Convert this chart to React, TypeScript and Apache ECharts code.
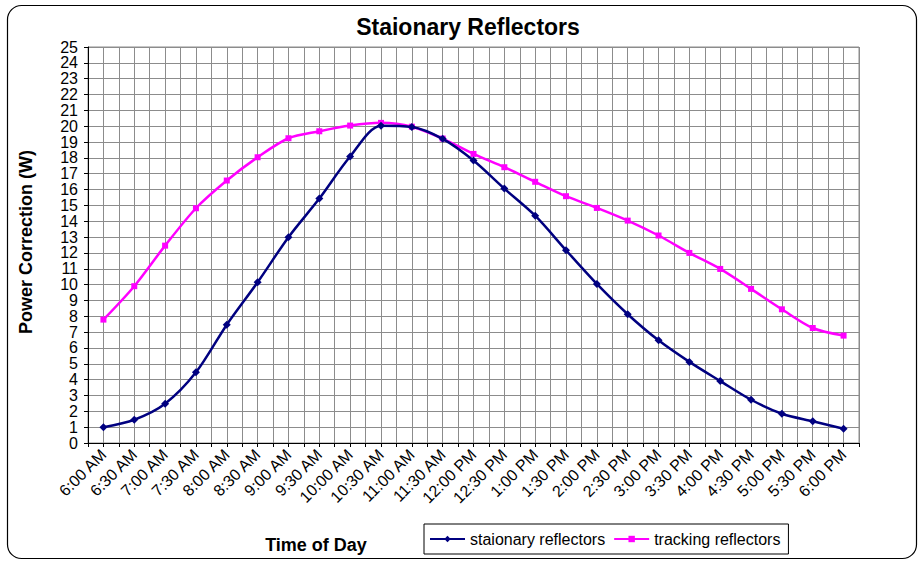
import React, { useEffect, useRef } from "react";
import * as echarts from "echarts";

const categories = [
  "6:00 AM", "6:30 AM", "7:00 AM", "7:30 AM", "8:00 AM", "8:30 AM", "9:00 AM", "9:30 AM",
  "10:00 AM", "10:30 AM", "11:00 AM", "11:30 AM", "12:00 PM", "12:30 PM", "1:00 PM", "1:30 PM",
  "2:00 PM", "2:30 PM", "3:00 PM", "3:30 PM", "4:00 PM", "4:30 PM", "5:00 PM", "5:30 PM", "6:00 PM",
];

const stationary = [
  1.0, 1.47, 2.48, 4.46, 7.47, 10.15, 12.99, 15.43, 18.09, 20.03, 19.95, 19.2, 17.83,
  16.06, 14.35, 12.17, 10.04, 8.13, 6.48, 5.12, 3.91, 2.73, 1.85, 1.37, 0.9,
];

const tracking = [
  7.79, 9.9, 12.46, 14.82, 16.57, 18.04, 19.24, 19.68, 20.04, 20.21, 19.97, 19.22, 18.25,
  17.41, 16.49, 15.58, 14.84, 14.04, 13.1, 12.0, 10.99, 9.73, 8.44, 7.26, 6.78,
];

const FONT = "'Liberation Sans', Arial, sans-serif";
const GRID_COLOR = "#8c8c8c";

export default function App() {
  const ref = useRef<HTMLDivElement>(null);

  useEffect(() => {
    document.body.style.margin = "0";
    if (!ref.current) return;
    const chart = echarts.init(ref.current, null, { renderer: "svg" });
    chart.setOption({
      animation: false,
      backgroundColor: "#ffffff",
      textStyle: { fontFamily: FONT },
      grid: { left: 88, right: 59, top: 47, bottom: 118, show: true, borderColor: GRID_COLOR, borderWidth: 1 },
      graphic: [
        {
          type: "rect",
          shape: { x: 7.5, y: 5.5, width: 909, height: 553, r: 14 },
          style: { fill: "none", stroke: "#000", lineWidth: 1.2 },
          z: 0,
        },
        {
          type: "text",
          x: 468,
          y: 27,
          style: { text: "Staionary Reflectors", font: `bold 23px ${FONT}`, fill: "#000", textAlign: "center", textVerticalAlign: "middle" },
        },
        {
          type: "text",
          x: 26,
          y: 242,
          rotation: Math.PI / 2,
          style: { text: "Power Correction (W)", font: `bold 18px ${FONT}`, fill: "#000", textAlign: "center", textVerticalAlign: "middle" },
        },
        {
          type: "text",
          x: 316,
          y: 545,
          style: { text: "Time of Day", font: `bold 18px ${FONT}`, fill: "#000", textAlign: "center", textVerticalAlign: "middle" },
        },
      ],
      legend: {
        left: 424,
        top: 524,
        orient: "horizontal",
        borderColor: "#000",
        borderWidth: 1,
        backgroundColor: "#fff",
        padding: [7, 8, 7, 5],
        itemWidth: 35,
        itemHeight: 8,
        itemGap: 8,
        textStyle: { fontFamily: FONT, fontSize: 16, color: "#000" },
        data: ["staionary reflectors", "tracking reflectors"],
      },
      xAxis: [
        {
          type: "category",
          data: categories,
          boundaryGap: true,
          axisLine: { show: true, lineStyle: { color: "#000", width: 1 } },
          axisTick: { show: false },
          splitLine: { show: false },
          axisLabel: { interval: 0, rotate: 45, fontSize: 16, color: "#000", margin: 9, fontFamily: FONT },
        },
        {
          type: "value",
          min: 0,
          max: 50,
          interval: 1,
          position: "bottom",
          axisLine: { show: false },
          axisTick: { show: true, length: 4, lineStyle: { color: "#000" } },
          axisLabel: { show: false },
          splitLine: { show: true, lineStyle: { color: GRID_COLOR, width: 1 } },
        },
      ],
      yAxis: {
        type: "value",
        min: 0,
        max: 25,
        interval: 1,
        axisLine: { show: true, lineStyle: { color: "#000", width: 1 } },
        axisTick: { show: true, length: 4, lineStyle: { color: "#000" } },
        axisLabel: { fontSize: 16, color: "#000", margin: 10, fontFamily: FONT },
        splitLine: { show: true, lineStyle: { color: GRID_COLOR, width: 1 } },
      },
      series: [
        {
          name: "staionary reflectors",
          type: "line",
          xAxisIndex: 0,
          data: stationary,
          smooth: 0.3,
          symbol: "diamond",
          symbolSize: 8,
          itemStyle: { color: "#000080" },
          lineStyle: { color: "#000080", width: 2.5 },
          z: 3,
        },
        {
          name: "tracking reflectors",
          type: "line",
          xAxisIndex: 0,
          data: tracking,
          smooth: 0.3,
          symbol: "rect",
          symbolSize: 6,
          itemStyle: { color: "#ff00ff" },
          lineStyle: { color: "#ff00ff", width: 2.5 },
          z: 2,
        },
      ],
    });
    return () => chart.dispose();
  }, []);

  return <div ref={ref} style={{ width: 918, height: 561 }} />;
}
